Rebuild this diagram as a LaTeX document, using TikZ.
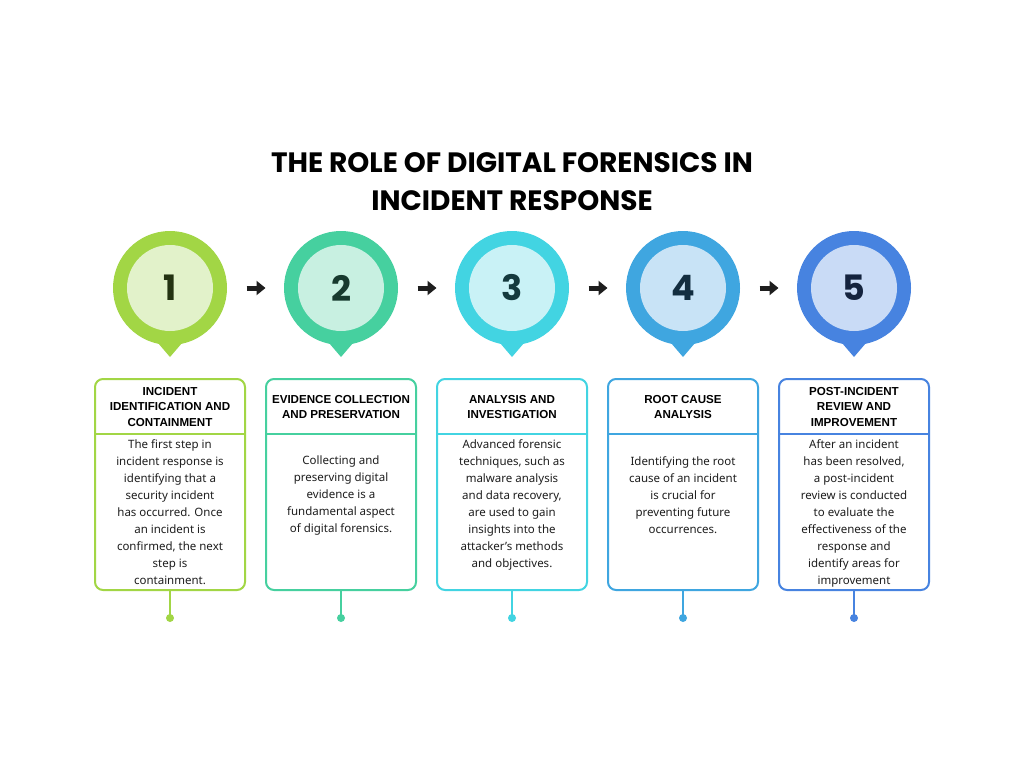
\documentclass[tikz,border=0pt]{standalone}
\usepackage{fontspec}
\setmainfont{Noto Sans}
\newfontfamily\titlefont{Poppins}
\newfontfamily\headfont{Liberation Sans}
\usetikzlibrary{arrows.meta,calc}
\definecolor{oA}{HTML}{A2D645}\definecolor{iA}{HTML}{E2F2CA}\definecolor{nA}{HTML}{243312}
\definecolor{oB}{HTML}{46D09F}\definecolor{iB}{HTML}{C8F0E1}\definecolor{nB}{HTML}{173A2E}
\definecolor{oC}{HTML}{42D4E2}\definecolor{iC}{HTML}{C9F2F6}\definecolor{nC}{HTML}{143A3E}
\definecolor{oD}{HTML}{3FA6E0}\definecolor{iD}{HTML}{C8E3F6}\definecolor{nD}{HTML}{132E40}
\definecolor{oE}{HTML}{4783E0}\definecolor{iE}{HTML}{C9DBF6}\definecolor{nE}{HTML}{14233E}
\definecolor{txt}{HTML}{1E1E1E}
\tikzset{
  pinouter/.style={circle,fill=#1,minimum size=114pt,inner sep=0pt},
  pininner/.style={circle,fill=#1,minimum size=86pt,inner sep=0pt,font=\titlefont\fontsize{35}{35}\selectfont\bfseries},
  card/.style={draw=#1,line width=2pt,rounded corners=8pt,minimum width=150pt,minimum height=211pt,inner sep=0pt},
  head/.style={align=center,text=black,font=\headfont\fontsize{11.6}{15.5}\selectfont\bfseries,inner sep=0pt},
  body/.style={align=center,text=txt,font=\fontsize{11.5}{17}\selectfont,inner sep=0pt,anchor=north},
  stem/.style={draw=#1,line width=2pt},
  dot/.style={circle,fill=#1,minimum size=8pt,inner sep=0pt},
  flow/.style={line width=5pt,-{Triangle[length=9pt,width=14pt]},draw=txt},
}
\begin{document}
\begin{tikzpicture}[x=1pt,y=-1pt]
\useasboundingbox[fill=white] (0,0) rectangle (1024,768);
\node[font=\titlefont\fontsize{28}{38}\selectfont\bfseries,align=center,text=black] (title) at (512,182) {THE ROLE OF DIGITAL FORENSICS IN\\INCIDENT RESPONSE};
% pins
\foreach \cx/\o/\i/\n/\k in {170/oA/iA/nA/1,341/oB/iB/nB/2,512/oC/iC/nC/3,683/oD/iD/nD/4,854/oE/iE/nE/5}{
  \fill[\o] (\cx-12,343) -- (\cx+12,343) -- (\cx,357) -- cycle;
  \node[pinouter=\o] (p\k) at (\cx,288) {};
  \node[pininner=\i,text=\n] (n\k) at (\cx,288) {\k};
}
% arrows
\foreach \a/\b in {1/2,2/3,3/4,4/5}{
  \coordinate (as\a) at ($(p\a.east)!0.5!(p\b.west)+(-9,0)$);
  \coordinate (ae\a) at ($(p\a.east)!0.5!(p\b.west)+(10,0)$);
  \draw[flow] (as\a) -- (ae\a);
}
% cards
\foreach \cx/\o/\k in {170/oA/1,341/oB/2,512/oC/3,683/oD/4,854/oE/5}{
  \node[card=\o] (b\k) at (\cx,484.5) {};
  \draw[\o,line width=2pt] ($(b\k.north west)+(0,56)$) -- ($(b\k.north east)+(0,56)$);
  \node[dot=\o] (d\k) at (\cx,618) {};
  \draw[stem=\o] (b\k.south) -- (d\k.center);
}
\node[head] (h1) at (170,407) {INCIDENT\\IDENTIFICATION AND\\CONTAINMENT};
\node[head] (h2) at (341,407) {EVIDENCE COLLECTION\\AND PRESERVATION};
\node[head] (h3) at (512,407) {ANALYSIS AND\\INVESTIGATION};
\node[head] (h4) at (683,407) {ROOT CAUSE\\ANALYSIS};
\node[head] (h5) at (854,407) {POST-INCIDENT\\REVIEW AND\\IMPROVEMENT};
\node[body] (t1) at (170,439) {The first step in\\incident response is\\identifying that a\\security incident\\has occurred. Once\\an incident is\\confirmed, the next\\step is\\containment.};
\node[body] (t2) at (341,456) {Collecting and\\preserving digital\\evidence is a\\fundamental aspect\\of digital forensics.};
\node[body] (t3) at (512,439) {Advanced forensic\\techniques, such as\\malware analysis\\and data recovery,\\are used to gain\\insights into the\\attacker's methods\\and objectives.};
\node[body] (t4) at (683,456) {Identifying the root\\cause of an incident\\is crucial for\\preventing future\\occurrences.};
\node[body] (t5) at (854,439) {After an incident\\has been resolved,\\a post-incident\\review is conducted\\to evaluate the\\effectiveness of the\\response and\\identify areas for\\improvement};
\end{tikzpicture}
\end{document}
